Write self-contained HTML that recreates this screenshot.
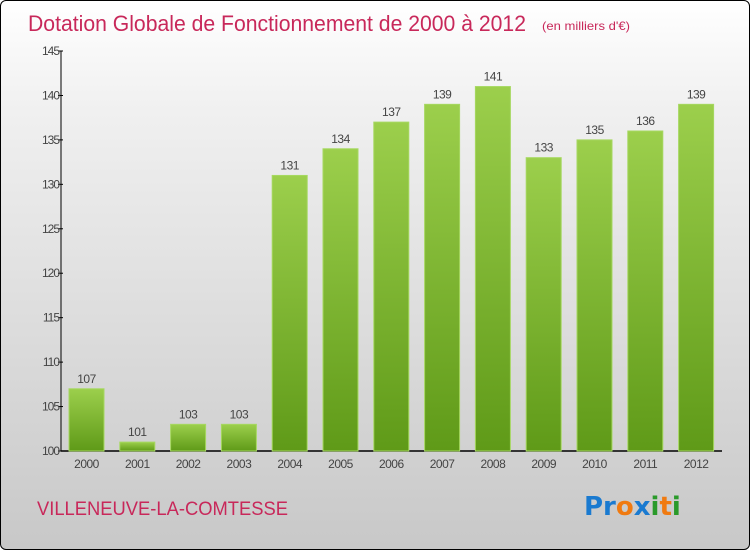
<!DOCTYPE html>
<html><head><meta charset="utf-8"><style>
body{margin:0}
#c{position:relative;width:750px;height:550px;box-sizing:border-box;border:1px solid #000;border-radius:6px;overflow:hidden;background:linear-gradient(#ffffff,#f0f0f0 20%,#c8c8c8);font-family:"Liberation Sans",sans-serif}
</style></head><body>
<div id="c">
<svg width="750" height="550" style="position:absolute;left:0;top:0">
<defs><linearGradient id="g" x1="0" y1="0" x2="0" y2="1"><stop offset="0" stop-color="#9ccf4c"/><stop offset="1" stop-color="#5f9a18"/></linearGradient></defs>
<text x="27" y="30" font-size="22" fill="#c8285a" textLength="498" lengthAdjust="spacingAndGlyphs">Dotation Globale de Fonctionnement de 2000 à 2012</text>
<text x="541" y="29" font-size="12" fill="#c8285a" textLength="88" lengthAdjust="spacingAndGlyphs">(en milliers d'€)</text>
<g id="plot"></g>
<text x="36" y="514" font-size="19" fill="#c8285a" textLength="251" lengthAdjust="spacingAndGlyphs">VILLENEUVE-LA-COMTESSE</text>
<text x="583" y="514" font-size="26" font-weight="bold" font-family="DejaVu Sans"><tspan fill="#1a7ad0">Pr</tspan><tspan fill="#f07a10">o</tspan><tspan fill="#1a7ad0">x</tspan><tspan fill="#2a9a2a">i</tspan><tspan fill="#f07a10">t</tspan><tspan fill="#2a9a2a">i</tspan></text>
</svg>
</div>
<script>
const categories=["2000","2001","2002","2003","2004","2005","2006","2007","2008","2009","2010","2011","2012"];
const values=[107,101,103,103,131,134,137,139,141,133,135,136,139];
const yTicks=[100,105,110,115,120,125,130,135,140,145];
const ns="http://www.w3.org/2000/svg";
const g=document.getElementById('plot');
const y=v=>450-(v-100)*400/45;
const x=i=>85.5+i*50.8;
function mk(t,a){const e=document.createElementNS(ns,t);for(const k in a)e.setAttribute(k,a[k]);g.appendChild(e);return e;}
let ax=mk('line',{x1:60,y1:50,x2:60,y2:450,stroke:'#000'});


let bx=mk('line',{x1:60,y1:450,x2:721,y2:450,stroke:'#000','stroke-width':1.5});


yTicks.forEach(t=>{
 mk('line',{x1:57,y1:y(t),x2:62,y2:y(t),stroke:'#000'});
 let e=mk('text',{x:58,y:y(t)+4,'text-anchor':'end','font-size':12,fill:'#444','letter-spacing':'-1'});
 e.textContent=t;
 
 
});
categories.forEach((c,i)=>{
 let r=mk('rect',{x:x(i)-17.5,y:y(values[i]),width:35,height:450-y(values[i]),fill:'url(#g)',stroke:'#a6d860','stroke-width':1});
 
 
 let v=mk('text',{x:x(i),y:y(values[i])-6,'text-anchor':'middle','font-size':12,fill:'#444','letter-spacing':'-0.5'});
 v.textContent=values[i];
 
 
 let l=mk('text',{x:x(i),y:467,'text-anchor':'middle','font-size':12,fill:'#444','letter-spacing':'-0.5'});
 l.textContent=c;
 
 
});
</script>
</body></html>
